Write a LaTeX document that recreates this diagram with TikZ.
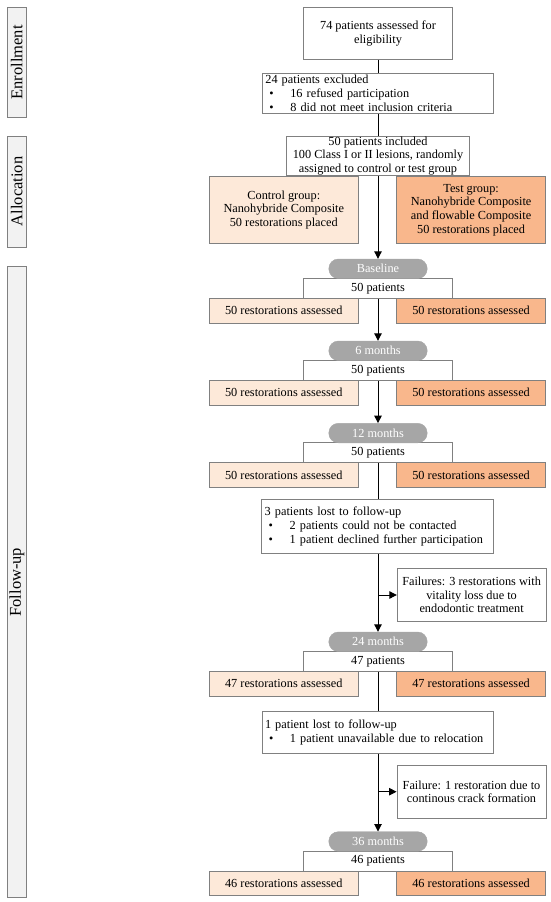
\documentclass[tikz,border=0pt]{standalone}
\usepackage{fontspec}
\setmainfont{Liberation Serif}
\usetikzlibrary{arrows.meta}
\definecolor{bord}{HTML}{808080}
\definecolor{ctrl}{HTML}{FDE9D9}
\definecolor{testc}{HTML}{F9B78C}
\definecolor{pillc}{HTML}{A6A6A6}
\definecolor{tabc}{HTML}{F2F2F2}
\newcommand\bl{\makebox[25pt][l]{\hspace*{4pt}•}}
\begin{document}
\begin{tikzpicture}[x=1pt,y=-1pt,
  box/.style={draw=bord, line width=0.9pt, fill=white, inner sep=0pt,
    font=\fontsize{12.3}{13.6}\selectfont, align=center},
  lbox/.style={box, align=left, inner xsep=3pt},
  ctrlbox/.style={box, fill=ctrl},
  testbox/.style={box, fill=testc},
  pill/.style={rounded corners=9.5pt, fill=pillc, draw=pillc, text=white,
    font=\fontsize{12.3}{14}\selectfont, minimum width=98.4pt,
    minimum height=19.5pt, inner sep=0pt},
  tab/.style={draw=bord, line width=0.9pt, fill=tabc, rotate=90,
    font=\fontsize{16.5}{18}\selectfont, inner sep=0pt, minimum height=19.7pt},
  conn/.style={line width=1pt, black},
  arr/.style={conn, -{Triangle[length=7.5pt,width=7.5pt]}}
]
\useasboundingbox (0,0) rectangle (550,902);

% phase tabs
\node[tab, minimum width=110pt] (tE) at (16.8,62.3) {Enrollment};
\node[tab, minimum width=111pt] (tA) at (16.8,191.5) {Allocation};
\node[tab, minimum width=631pt] (tF) at (16.8,582.2) {Follow-up};

% enrollment / allocation
\node[box, minimum width=149pt, minimum height=52pt] (b1) at (378,33.3)
  {74 patients assessed for\\eligibility};
\node[lbox, text width=224.7pt, minimum height=40pt] (b2) at (377.7,93.3)
  {24 patients excluded\\\bl 16 refused participation\\\bl 8 did not meet inclusion criteria};
\node[box, minimum width=182.5pt, minimum height=39.5pt] (b3) at (378,155.7)
  {50 patients included\\100 Class I or II lesions, randomly\\assigned to control or test group};
\node[ctrlbox, minimum width=148.5pt, minimum height=67pt] (cg) at (283.8,210)
  {Control group:\\Nanohybride Composite\\50 restorations placed};
\node[testbox, minimum width=148.8pt, minimum height=67pt] (tg) at (471.1,210)
  {Test group:\\Nanohybride Composite\\and flowable Composite\\50 restorations placed};

% follow-up blocks
\foreach \i/\T/\n/\lab in {0/259/50/Baseline, 1/341/50/6 months, 2/423.3/50/12 months,
                          3/632/47/24 months, 4/831.7/46/36 months}{
  \node[box, minimum width=149pt, minimum height=20pt] (pt\i) at (378,{\T+29.5}) {\n{} patients};
  \node[pill] (p\i) at (378,{\T+9.75}) {\lab};
  \node[ctrlbox, minimum width=148.5pt, minimum height=24.5pt] (rc\i) at (283.8,{\T+51.75})
    {\n{} restorations assessed};
  \node[testbox, minimum width=148.8pt, minimum height=24.5pt] (rt\i) at (471.1,{\T+51.75})
    {\n{} restorations assessed};
}

% losses and failures
\node[lbox, text width=225.6pt, minimum height=53.8pt] (l1) at (377.5,526.4)
  {3 patients lost to follow-up\\\bl 2 patients could not be contacted\\\bl 1 patient declined further participation};
\node[box, minimum width=148.7pt, minimum height=53.4pt] (f1) at (471.6,595)
  {Failures: 3 restorations with\\vitality loss due to\\endodontic treatment};
\node[lbox, text width=225pt, minimum height=41.6pt] (l2) at (377.5,732.5)
  {1 patient lost to follow-up\\\bl 1 patient unavailable due to relocation};
\node[box, minimum width=149pt, minimum height=53.3pt] (f2) at (471.5,791.7)
  {Failure: 1 restoration due to\\continous crack formation};

% connectors
\draw[conn] (b1.south) -- (b2.north -| b1.south);
\draw[conn] (b2.south -| b1.south) -- (b3.north -| b1.south);
\draw[arr] (b3.south) -- (p0.north);
\draw[arr] (pt0.south) -- (p1.north);
\draw[arr] (pt1.south) -- (p2.north);
\draw[conn] (pt2.south) -- (l1.north -| pt2.south);
\draw[arr] (l1.south -| pt2.south) -- (p3.north);
\draw[arr] (pt2.south |- f1.west) -- (f1.west);
\draw[conn] (pt3.south) -- (l2.north -| pt3.south);
\draw[arr] (l2.south -| pt3.south) -- (p4.north);
\draw[arr] (pt3.south |- f2.west) -- (f2.west);
\end{tikzpicture}
\end{document}
